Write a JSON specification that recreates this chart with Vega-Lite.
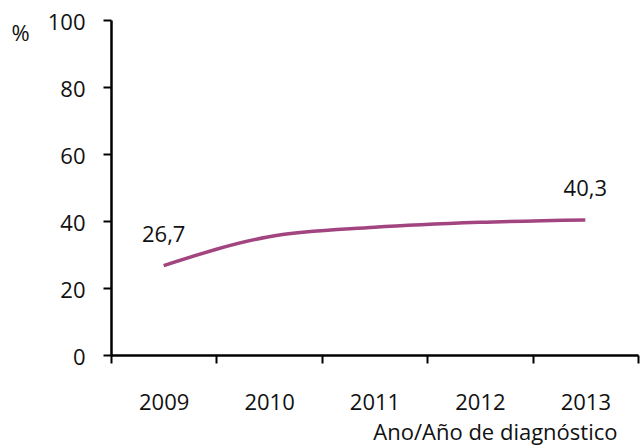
{
  "$schema": "https://vega.github.io/schema/vega-lite/v6.json",
  "width": 527,
  "height": 335,
  "autosize": {"type": "none"},
  "padding": {"left": 111, "top": 20, "right": 3, "bottom": 92},
  "background": "white",
  "config": {
    "view": {"stroke": null},
    "font": "Open Sans",
    "axis": {"grid": false, "domainColor": "#000", "tickColor": "#000", "labelColor": "#111", "titleColor": "#111", "labelFont": "Open Sans", "titleFont": "Open Sans", "labelFontWeight": "normal", "titleFontWeight": "normal"}
  },
  "data": {
    "values": [
      {"year": "2009", "pct": 26.7, "label": "26,7"},
      {"year": "2010", "pct": 35.3, "label": ""},
      {"year": "2011", "pct": 38.1, "label": ""},
      {"year": "2012", "pct": 39.6, "label": ""},
      {"year": "2013", "pct": 40.3, "label": "40,3"}
    ]
  },
  "encoding": {
    "x": {
      "field": "year", "type": "ordinal",
      "scale": {"type": "band", "paddingInner": 0, "paddingOuter": 0},
      "axis": {
        "title": "Ano/Año de diagnóstico", "labelAngle": 0, "labelFontSize": 22, "titleFontSize": 22,
        "tickBand": "extent", "tickSize": 8, "tickWidth": 2, "domainWidth": 2.5,
        "labelPadding": 29, "titleAnchor": "end", "titleAlign": "right", "titleX": 506, "titleY": 77, "titleBaseline": "middle"
      }
    },
    "y": {
      "field": "pct", "type": "quantitative",
      "scale": {"domain": [0, 100]},
      "axis": {
        "values": [0, 20, 40, 60, 80, 100], "title": "%", "titleAngle": 0, "titleFontSize": 22,
        "titleX": -91, "titleY": 13, "titleAlign": "center", "titleBaseline": "middle",
        "labelFontSize": 22, "labelOffset": 2, "tickSize": 8, "tickWidth": 2, "domainWidth": 2.5, "labelPadding": 18
      }
    }
  },
  "layer": [
    {
      "mark": {"type": "line", "interpolate": "monotone", "color": "#a2447f", "strokeWidth": 3.5}
    },
    {
      "mark": {"type": "text", "fontSize": 22, "dy": -31, "color": "#111", "font": "Open Sans"},
      "encoding": {"text": {"field": "label"}}
    }
  ]
}
